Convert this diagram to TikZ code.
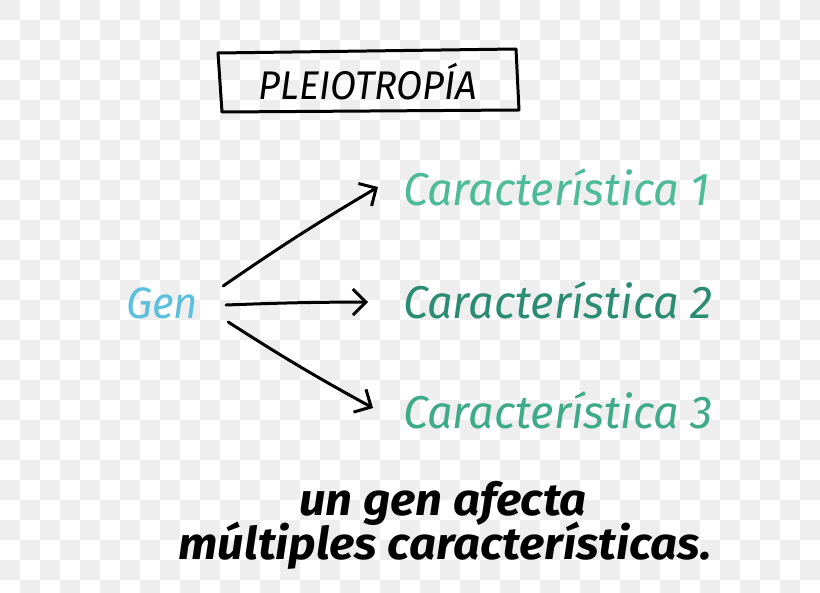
\documentclass[tikz,border=0pt]{standalone}
\usepackage{fontspec}
\setmainfont{Fira Sans}
\usetikzlibrary{arrows.meta,calc}
\definecolor{checkgray}{HTML}{EEEEEE}
\definecolor{genblue}{HTML}{5BC0DE}
\definecolor{cone}{HTML}{4DBB98}
\definecolor{ctwo}{HTML}{2A8C72}
\definecolor{cthree}{HTML}{3DAA88}
\tikzset{
  handline/.style={line width=3pt, line cap=round, line join=round, black},
  arrowline/.style={handline, -{Straight Barb[length=13pt,width=26pt,line width=3pt]}},
  chartext/.style={anchor=west, inner sep=0pt, font=\fontsize{46}{50}\selectfont\itshape},
  gentext/.style={inner sep=0pt, font=\fontsize{44}{48}\selectfont\itshape, text=genblue},
  bottomtext/.style={inner sep=0pt, font=\fontsize{45}{40}\selectfont\bfseries\itshape, align=center}
}
\begin{document}
\begin{tikzpicture}[x=1pt,y=-1pt]
\useasboundingbox (0,0) rectangle (820,593);
\fill[white] (0,0) rectangle (820,593);
\foreach \j in {0,...,29}{
  \foreach \i in {0,...,40}{
    \pgfmathtruncatemacro\p{mod(\i+\j,2)}
    \ifnum\p=0 \fill[checkgray] (\i*20,\j*20) rectangle (\i*20+20,\j*20+20);\fi
  }
}
% title box
\draw[handline] (218,53) -- (516,49) -- (519,110) -- (222,112) -- cycle;
\node[inner sep=0pt, font=\fontsize{40}{44}\selectfont\itshape] (title) at (368,82) {\scalebox{0.95}[1]{PLEIOTROPÍA}};
% gene
\node[gentext] (gen) at (162,303) {\scalebox{0.95}[1]{Gen}};
% characteristics
\node[chartext, text=cone] (c1) at (403,187) {\scalebox{0.98}[1]{Característica 1}};
\node[chartext, text=ctwo] (c2) at (403,300) {\scalebox{0.98}[1]{Característica 2}};
\node[chartext, text=cthree] (c3) at (403,410) {\scalebox{0.98}[1]{Característica 3}};
% arrows
\draw[arrowline] ($(gen.east)+(25,-17)$) to[bend left=2] ($(c1.west)+(-25,0)$);
\draw[arrowline] ($(gen.east)+(28,2)$) to[bend left=1] ($(c2.west)+(-35,2)$);
\draw[arrowline] ($(gen.east)+(30,19)$) to[bend right=2] ($(c3.west)+(-30,-2)$);
% bottom text
\node[bottomtext] (b1) at (443,503) {\scalebox{1.05}[1]{un gen afecta}};
\node[bottomtext] (b2) at (445,546) {\scalebox{1.05}[1]{múltiples características.}};
\end{tikzpicture}
\end{document}
